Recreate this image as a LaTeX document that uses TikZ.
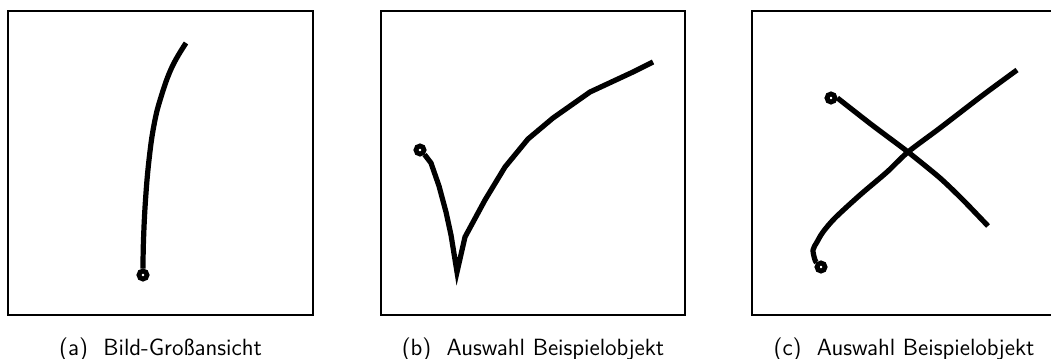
\documentclass[tikz,border=0pt]{standalone}
\usepackage{fontspec}
\begin{document}
\begin{tikzpicture}[x=0.575pt,y=-0.575pt,
  frame/.style={draw=black,line width=0.7pt},
  stroke/.style={draw=black,line width=3pt,line join=round},
  startdot/.style={circle,draw=black,line width=2.8pt,minimum size=4.6pt,inner sep=0pt},
  captext/.style={anchor=base,font=\sffamily\fontsize{13.5}{16}\selectfont}]
\useasboundingbox (0,0) rectangle (1051,359);
\clip (0,0) rectangle (1051,359);
% frames
\draw[frame] (8,11) rectangle (313,315);
\draw[frame] (381,11) rectangle (685,315);
\draw[frame] (752,11) rectangle (1057,315);
% (a)
\node[startdot] (sa) at (143,275) {};
\draw[stroke] plot[smooth,tension=0.7] coordinates {(sa.north) (143.5,240) (145.5,200) (149,160) (154,125) (161,97) (172,67) (186,43)};
% (b)
\node[startdot] (sb) at (420,150) {};
\draw[stroke,line join=miter] (sb.south east) -- (431,163) -- (439,186) -- (446,212) -- (451,235) -- (457,272) -- (465,237) -- (485,200) -- (505,167) -- (528,139) -- (553,118) -- (590,92) -- (633,72) -- (653,62);
% (c)
\node[startdot] (sc1) at (831,98) {};
\draw[stroke] plot[smooth,tension=0.4] coordinates {(sc1.east) (872,125) (908,152) (940,178) (963,200) (988,226)};
\node[startdot] (sc2) at (821,267) {};
\draw[stroke] plot[smooth,tension=0.5] coordinates {(sc2.north west) (815,260) (813,250) (817,242) (823,232) (835,218) (860,195) (887,172) (908,152) (940,128) (983,95) (1017,70)};
% captions
\node[captext] (capa) at (160.5,355) {(a)\ \ Bild-Großansicht};
\node[captext] (capb) at (533,355) {(b)\ \ Auswahl Beispielobjekt};
\node[captext] (capc) at (904,355) {(c)\ \ Auswahl Beispielobjekt};
\end{tikzpicture}
\end{document}
